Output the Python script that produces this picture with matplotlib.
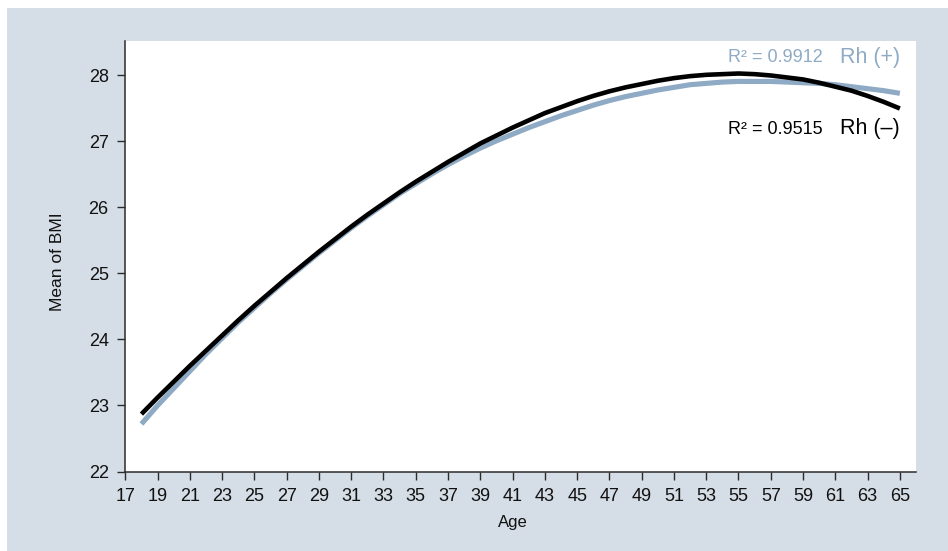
import matplotlib.pyplot as plt
from matplotlib.patches import Rectangle

# -----------------------------------------------------------------------------
# DATA
# -----------------------------------------------------------------------------

ages = list(range(18, 66))
bmi_rh_pos = [22.72, 23.00, 23.26, 23.52, 23.78, 24.02, 24.26, 24.48, 24.70, 24.91,
              25.11, 25.31, 25.50, 25.69, 25.87, 26.04, 26.21, 26.36, 26.51, 26.65,
              26.78, 26.90, 27.01, 27.11, 27.21, 27.30, 27.39, 27.47, 27.55, 27.62,
              27.68, 27.73, 27.78, 27.82, 27.86, 27.88, 27.90, 27.91, 27.91, 27.91,
              27.90, 27.89, 27.88, 27.86, 27.83, 27.80, 27.77, 27.73]
bmi_rh_neg = [22.87, 23.12, 23.36, 23.60, 23.83, 24.06, 24.29, 24.51, 24.72, 24.93,
              25.13, 25.33, 25.52, 25.71, 25.89, 26.06, 26.23, 26.39, 26.54, 26.69,
              26.83, 26.97, 27.09, 27.21, 27.32, 27.43, 27.52, 27.61, 27.69, 27.76,
              27.82, 27.87, 27.92, 27.96, 27.99, 28.01, 28.02, 28.03, 28.02, 28.00,
              27.97, 27.94, 27.89, 27.83, 27.77, 27.69, 27.60, 27.50]
r2_values = {"Rh (+)": 0.9912, "Rh (–)": 0.9515}

x_ticks = list(range(17, 66, 2))
y_ticks = list(range(22, 29))

# -----------------------------------------------------------------------------
# STYLE
# -----------------------------------------------------------------------------

BG_COLOR = "#d5dde6"
POS_COLOR = "#8eaac4"
NEG_COLOR = "#000000"
AXIS_COLOR = "#2b2b2b"
TEXT_COLOR = "#111111"

plt.rcParams["font.family"] = ["Liberation Sans", "DejaVu Sans"]

W, H = 948, 551
fig = plt.figure(figsize=(W / 100, H / 100), dpi=100, facecolor="white")

# outer tinted frame (white strip left and top)
fig.patches.append(Rectangle((7 / W, 0), 1 - 7 / W, (H - 8) / H, transform=fig.transFigure,
                             facecolor=BG_COLOR, edgecolor="none", zorder=-10))

ax = fig.add_axes([125.3 / W, 1 - 471.5 / H, (916 - 125.3) / W, (471.5 - 40.5) / H])
ax.set_zorder(1)
ax.set_facecolor("white")

ax.plot(ages, bmi_rh_pos, color=POS_COLOR, lw=3.7, solid_capstyle="butt", zorder=2)
ax.plot(ages, bmi_rh_neg, color=NEG_COLOR, lw=3.3, solid_capstyle="butt", zorder=3)

ax.set_xlim(17, 66)
ax.set_ylim(22, 28.53)
ax.set_xticks(x_ticks)
ax.set_yticks(y_ticks)

for side in ["top", "right"]:
    ax.spines[side].set_visible(False)
for side in ["left", "bottom"]:
    ax.spines[side].set_color(AXIS_COLOR)
    ax.spines[side].set_linewidth(1.1)

ax.tick_params(axis="both", length=6, width=1, color=AXIS_COLOR, labelsize=13,
               labelcolor=TEXT_COLOR)
ax.tick_params(axis="x", pad=6)
ax.tick_params(axis="y", pad=6)

ax.set_xlabel("Age", fontsize=12, color=TEXT_COLOR)
ax.set_ylabel("Mean of BMI", fontsize=12.5, color=TEXT_COLOR)
ax.xaxis.set_label_coords(24 / 49, -0.1)
ax.yaxis.set_label_coords(-0.076, 0.487)

# R² annotations
ax.text(60.23, 28.21, f"R² = {r2_values['Rh (+)']}", color=POS_COLOR, fontsize=13,
        ha="right", va="baseline")
ax.text(65, 28.185, "Rh (+)", color=POS_COLOR, fontsize=15.5, ha="right", va="baseline")
ax.text(60.23, 27.11, f"R² = {r2_values['Rh (–)']}", color=NEG_COLOR, fontsize=13,
        ha="right", va="baseline")
ax.text(65, 27.11, "Rh (–)", color=NEG_COLOR, fontsize=15.5, ha="right", va="baseline")

fig.savefig("out.png", dpi=100, facecolor=fig.get_facecolor())
